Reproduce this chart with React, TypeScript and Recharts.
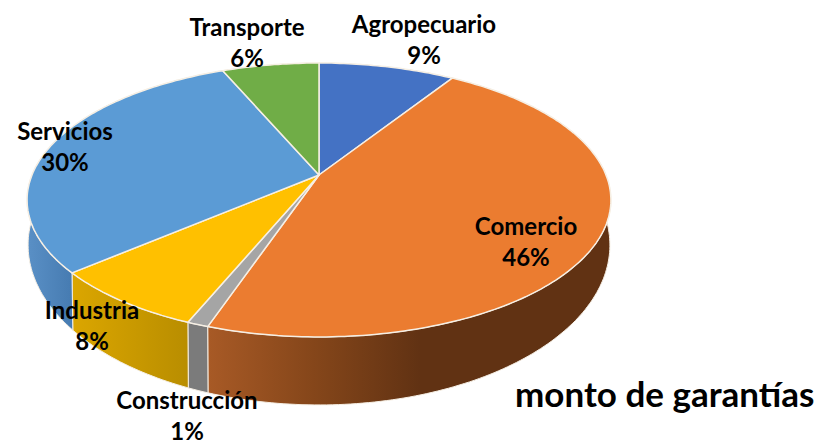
import { Pie, PieChart } from "recharts"

const categories = ["Agropecuario", "Comercio", "Construcción", "Industria", "Servicios", "Transporte"]
const shares = [9, 46.2, 1, 7.5, 29.9, 6.4]
const chartTitle = "monto de garantías"

const topColors = ["#4472c4", "#eb7c30", "#a5a5a5", "#ffc000", "#5b9bd5", "#70ad47"]
const wallFills = ["#2f528f", "url(#wallComercio)", "#7b7b7b", "url(#wallIndustria)", "url(#wallServicios)", "#4e7a31"]

// where each label is centred, first line baseline
const labelSpots = [
    { x: 424, y: 33 },
    { x: 526, y: 235 },
    { x: 187, y: 409 },
    { x: 92, y: 319 },
    { x: 65, y: 140 },
    { x: 247, y: 36 },
]

const rows = categories.map((name, i) => ({ name, value: shares[i] }))

// the apex sits above the middle of the ellipse, so the top face is a perspective view of a circle
const APEX_X = 319
const APEX_Y = 175
const RADIUS_X = 287
const RADIUS_Y = 132.4
const TILT = -0.1824

const rimPoint = (angle: number) => {
    const rad = (angle * Math.PI) / 180
    const u = Math.cos(rad)
    const v = -Math.sin(rad)
    const w = 1 + TILT * v
    return { x: APEX_X + (RADIUS_X * u) / w, y: APEX_Y + (RADIUS_Y * v) / w }
}

// same rim, moved onto the bottom ellipse of the pie
const floorPoint = (p: { x: number; y: number }) => ({
    x: APEX_X + (p.x - APEX_X) * (291 / 292),
    y: 245 + (p.y - 200) * (160 / 137),
})

const rimPoints = (startAngle: number, endAngle: number) => {
    const steps = Math.max(4, Math.ceil(Math.abs(endAngle - startAngle)))
    return Array.from({ length: steps + 1 }, (_, i) => rimPoint(startAngle + ((endAngle - startAngle) * i) / steps))
}

const toPath = (pts: { x: number; y: number }[]) => pts.map((p) => `${p.x.toFixed(1)},${p.y.toFixed(1)}`).join(" L")

function TopSlice(props: any) {
    const pts = rimPoints(props.startAngle, props.endAngle)
    return (
        <path
            d={`M${APEX_X},${APEX_Y} L${toPath(pts)} Z`}
            fill={topColors[props.index]}
            stroke="#f6efe4"
            strokeWidth={1.5}
            strokeLinejoin="round"
        />
    )
}

function WallSlice(props: any) {
    const pts = rimPoints(props.startAngle, props.endAngle)
    const floor = pts.map(floorPoint).reverse()
    return (
        <path
            d={`M${toPath(pts)} L${toPath(floor)} Z`}
            fill={wallFills[props.index]}
            stroke="#f6efe4"
            strokeWidth={1}
            strokeLinejoin="round"
        />
    )
}

function SliceLabel(props: any) {
    const spot = labelSpots[props.index]
    const style = { fontFamily: "Lato", fontWeight: 700, fontSize: 24, fill: "#000" }
    return (
        <text textAnchor="middle" style={style}>
            <tspan x={spot.x} y={spot.y}>{props.name}</tspan>
            <tspan x={spot.x} y={spot.y + 31}>{Math.round(props.value)}%</tspan>
        </text>
    )
}

export default function App() {
    return (
        <div style={{ position: "absolute", left: 0, top: 0 }}>
            <PieChart width={819} height={441} margin={{ top: 0, right: 0, bottom: 0, left: 0 }}>
                <defs>
                    <linearGradient id="wallComercio" gradientUnits="userSpaceOnUse" x1="207" y1="0" x2="420" y2="0">
                        <stop offset="0" stopColor="#a85a26" />
                        <stop offset="0.5" stopColor="#85461a" />
                        <stop offset="1" stopColor="#613213" />
                    </linearGradient>
                    <linearGradient id="wallIndustria" gradientUnits="userSpaceOnUse" x1="72" y1="0" x2="190" y2="0">
                        <stop offset="0" stopColor="#dba600" />
                        <stop offset="1" stopColor="#b88d00" />
                    </linearGradient>
                    <linearGradient id="wallServicios" gradientUnits="userSpaceOnUse" x1="27" y1="0" x2="75" y2="0">
                        <stop offset="0" stopColor="#5a90c6" />
                        <stop offset="1" stopColor="#457ab0" />
                    </linearGradient>
                </defs>
                <Pie
                    data={rows}
                    dataKey="value"
                    nameKey="name"
                    cx={APEX_X}
                    cy={APEX_Y}
                    outerRadius={100}
                    startAngle={90}
                    endAngle={-270}
                    shape={WallSlice}
                    isAnimationActive={false}
                />
                <Pie
                    data={rows}
                    dataKey="value"
                    nameKey="name"
                    cx={APEX_X}
                    cy={APEX_Y}
                    outerRadius={100}
                    startAngle={90}
                    endAngle={-270}
                    shape={TopSlice}
                    label={SliceLabel}
                    labelLine={false}
                    isAnimationActive={false}
                />
                <text x={515} y={407} style={{ fontFamily: "Lato", fontWeight: 700, fontSize: 35, fill: "#000" }}>
                    {chartTitle}
                </text>
            </PieChart>
        </div>
    )
}
